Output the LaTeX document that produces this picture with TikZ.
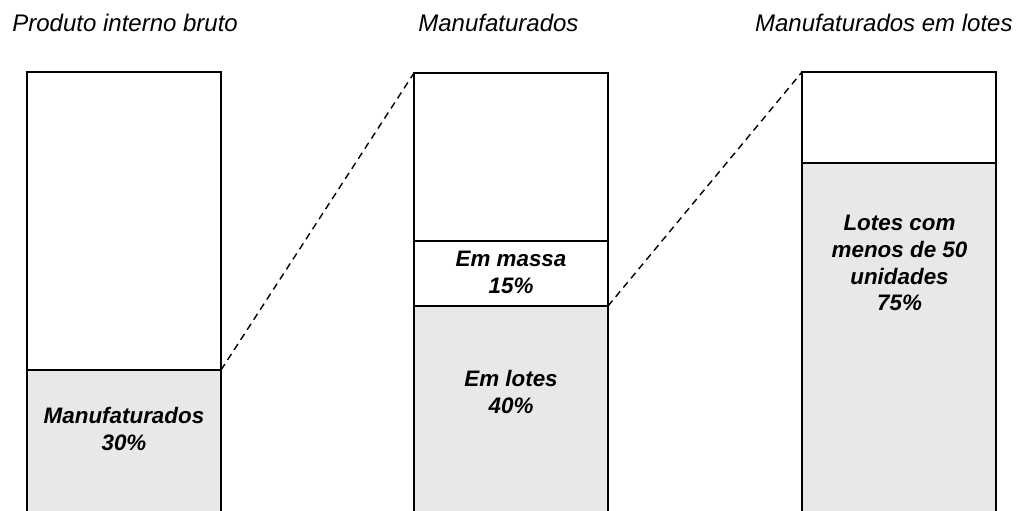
\documentclass[tikz,border=0pt]{standalone}
\usepackage{fontspec}
\setmainfont{Liberation Sans}
\usetikzlibrary{positioning}

\tikzset{
    block/.style={draw, line width=1pt, minimum width=97pt, outer sep=0pt, inner sep=0pt},
    shareblock/.style={block, fill=black!9},
    barlabel/.style={align=center, anchor=north, inner sep=0pt,
        font=\fontsize{11.2}{13.3}\selectfont\bfseries\itshape},
    heading/.style={inner sep=0pt, font=\fontsize{12}{14}\selectfont\itshape},
    zoomline/.style={line width=0.7pt, dash pattern=on 3.5pt off 2.5pt}
}

\begin{document}
\begin{tikzpicture}[x=0.5pt,y=0.5pt]
        \useasboundingbox (0,0) rectangle (1020,510);
        \clip (0,0) rectangle (1020,510);

        \node[heading, anchor=base west] (pibtitle) at (12,478) {Produto interno bruto};
        \node[heading, anchor=base west] (manuftitle) at (418,478) {Manufaturados};
        \node[heading, anchor=base east] (lotestitle) at (1013,478) {Manufaturados em lotes};

        \node[block, minimum height=149pt, anchor=north west] (pibrest) at (27,438) {};
        \node[shareblock, minimum height=75pt, below=0pt of pibrest] (pibmanuf) {};

        \node[block, minimum height=84pt, anchor=north west] (manufrest) at (414,437) {};
        \node[block, minimum height=32.5pt, below=0pt of manufrest] (manufmassa) {};
        \node[shareblock, minimum height=107pt, below=0pt of manufmassa] (manuflotes) {};

        \node[block, minimum height=45.5pt, anchor=north west] (lotesrest) at (802,438) {};
        \node[shareblock, minimum height=178.5pt, below=0pt of lotesrest] (lotesmenos) {};

        \node[barlabel] (pibmanuftext) at (124,103) {Manufaturados\\30\%};
        \node[barlabel] (manufmassatext) at (511,259) {Em massa\\15\%};
        \node[barlabel] (manuflotestext) at (511,140) {Em lotes\\40\%};
        \node[barlabel] (lotesmenostext) at (899.5,295) {Lotes com\\menos de 50\\unidades\\75\%};

        \draw[zoomline] (pibmanuf.north east) -- (manufrest.north west);
        \draw[zoomline] (manufmassa.south east) -- (lotesrest.north west);
    \end{tikzpicture}
\end{document}
